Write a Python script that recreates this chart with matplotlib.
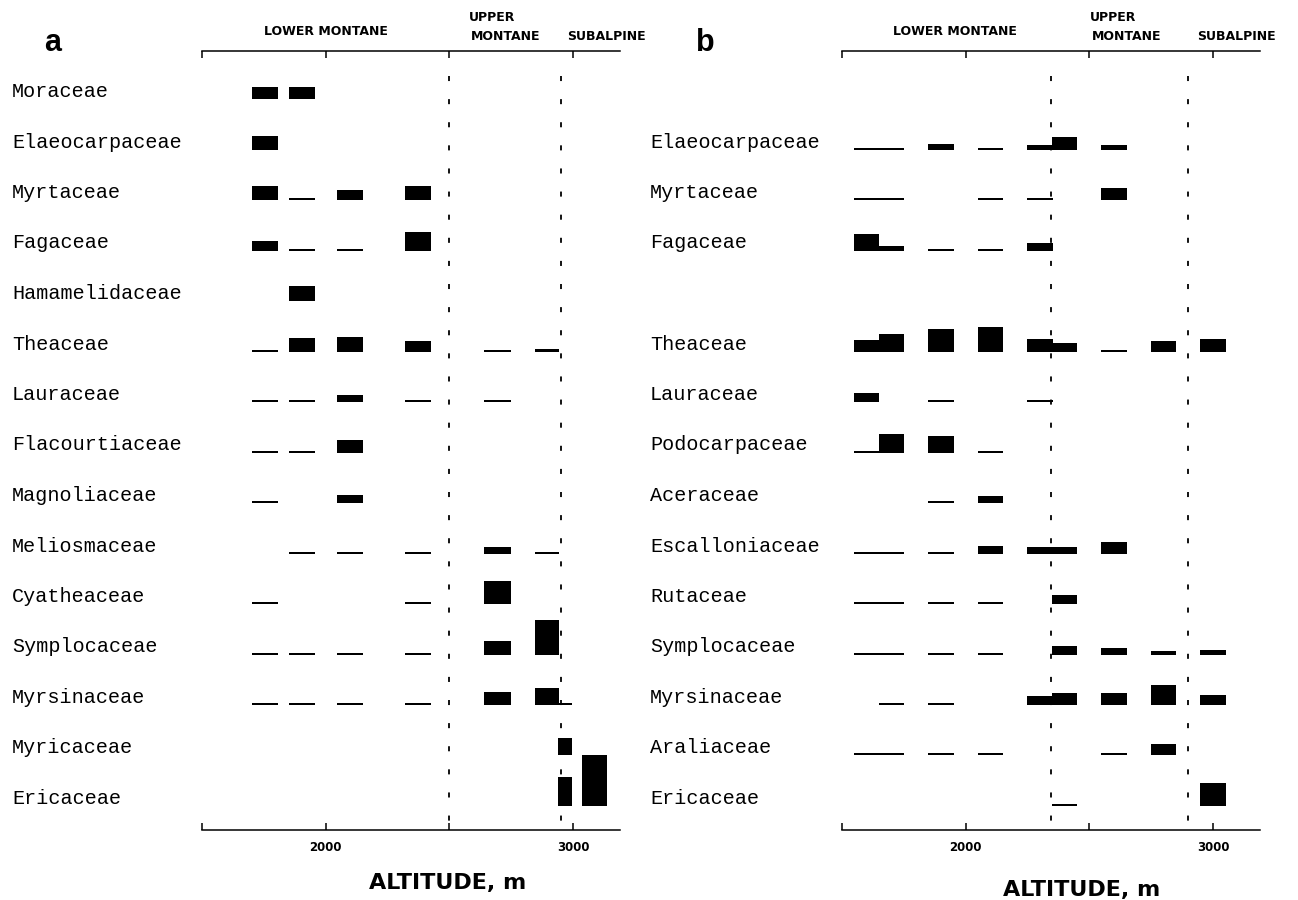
# Altitudinal distribution of tree families, two transects (a, b)
import matplotlib.pyplot as plt
import numpy as np
from matplotlib.transforms import blended_transform_factory

# altitude bands (band centre and band width, m)
alt_a = [1755, 1905, 2100, 2375, 2695, 2895, 2968, 3088]
band_a = [105, 105, 105, 105, 110, 100, 56, 100]
alt_b = [1600, 1700, 1900, 2100, 2300, 2400, 2600, 2800, 3000]
band_b = [103, 103, 103, 103, 103, 103, 103, 103, 103]

families_a = ["Moraceae", "Elaeocarpaceae", "Myrtaceae", "Fagaceae", "Hamamelidaceae",
              "Theaceae", "Lauraceae", "Flacourtiaceae", "Magnoliaceae", "Meliosmaceae",
              "Cyatheaceae", "Symplocaceae", "Myrsinaceae", "Myricaceae", "Ericaceae"]
families_b = ["", "Elaeocarpaceae", "Myrtaceae", "Fagaceae", "",
              "Theaceae", "Lauraceae", "Podocarpaceae", "Aceraceae", "Escalloniaceae",
              "Rutaceae", "Symplocaceae", "Myrsinaceae", "Araliaceae", "Ericaceae"]

# relative importance per band (2 = trace)
imp_a = [
    [12, 12, 0, 0, 0, 0, 0, 0],
    [14, 0, 0, 0, 0, 0, 0, 0],
    [14, 2, 10, 14, 0, 0, 0, 0],
    [10, 2, 2, 19, 0, 0, 0, 0],
    [0, 15, 0, 0, 0, 0, 0, 0],
    [2, 14, 15, 11, 2, 3, 0, 0],
    [2, 2, 7, 2, 2, 0, 0, 0],
    [2, 2, 13, 0, 0, 0, 0, 0],
    [2, 0, 8, 0, 0, 0, 0, 0],
    [0, 2, 2, 2, 7, 2, 0, 0],
    [2, 0, 0, 2, 23, 0, 0, 0],
    [2, 2, 2, 2, 14, 35, 0, 0],
    [2, 2, 2, 2, 13, 17, 2, 0],
    [0, 0, 0, 0, 0, 0, 17, 0],
    [0, 0, 0, 0, 0, 0, 29, 51],
]
imp_b = [
    [0, 0, 0, 0, 0, 0, 0, 0, 0],
    [2, 2, 6, 2, 5, 13, 5, 0, 0],
    [2, 2, 0, 2, 2, 0, 12, 0, 0],
    [17, 5, 2, 2, 8, 0, 0, 0, 0],
    [0, 0, 0, 0, 0, 0, 0, 0, 0],
    [12, 18, 23, 25, 13, 9, 2, 11, 13],
    [9, 0, 2, 0, 2, 0, 0, 0, 0],
    [2, 19, 17, 2, 0, 0, 0, 0, 0],
    [0, 0, 2, 7, 0, 0, 0, 0, 0],
    [2, 2, 2, 8, 7, 7, 12, 0, 0],
    [2, 2, 2, 2, 0, 9, 0, 0, 0],
    [2, 2, 2, 2, 0, 9, 7, 4, 5],
    [0, 2, 2, 0, 9, 12, 12, 20, 10],
    [2, 2, 2, 2, 0, 0, 2, 11, 0],
    [0, 0, 0, 0, 0, 2, 0, 0, 23],
]

bounds_a = [2500, 2950]
bounds_b = [2345, 2900]

W, H = 1298, 900
ROW = 50.5  # pixels per row
fig = plt.figure(figsize=(W / 100, H / 100), dpi=100)

bold = dict(family='DejaVu Sans', weight='bold')


def panel(left_px, alts, bands, imp, fams, bounds, zones, letter, letter_x, lab_x, alt_lab):
    right_px = left_px + 1690 * 0.2473
    ax = fig.add_axes([left_px / W, 1 - 830 / H, (right_px - left_px) / W, (830 - 51) / H])
    ax.set_xlim(1500, 3190)
    ax.set_ylim((830 - 99) / ROW, (51 - 99) / ROW)

    imp = np.array(imp, dtype=float)
    for i in range(len(fams)):
        for j, a in enumerate(alts):
            if imp[i, j] > 0:
                h = imp[i, j] / ROW
                ax.bar(a, -h, bottom=i, width=bands[j], color='black', lw=0)

    for b in bounds:
        ax.vlines(b, -0.45, 14.45, color='black', lw=1.3, linestyles=(0, (2.8, 10)))

    for s in ['left', 'right']:
        ax.spines[s].set_visible(False)
    for s in ['top', 'bottom']:
        ax.spines[s].set_linewidth(1.1)
    ax.set_yticks([])
    ax.set_xticks([1500, 2000, 2500, 3000])
    ax.set_xticklabels(['', '2000', '', '3000'], fontsize=8.5, **bold)
    ax.tick_params(axis='x', direction='in', length=5, width=1.1, pad=8,
                   top=True, labeltop=False)

    tr = blended_transform_factory(fig.transFigure, ax.transData)
    for i, f in enumerate(fams):
        ax.text(lab_x / W, i - 2 / ROW, f, transform=tr, family='Liberation Mono',
                fontsize=14.5, va='baseline', ha='left')

    for txt, x, y in zones:
        ax.text(x, y, txt, fontsize=9, ha='center', va='center', clip_on=False, **bold)

    fig.text(letter_x / W, 1 - 51 / H, letter, fontsize=22, weight='bold',
             family='Liberation Sans', ha='left', va='baseline')
    ax.text(alt_lab[0], alt_lab[1], 'ALTITUDE, m', fontsize=16, ha='center', va='center',
            clip_on=False, **bold)


panel(202, alt_a, band_a, imp_a, families_a, bounds_a,
      [('LOWER MONTANE', 2000, -1.33), ('UPPER', 2673, -1.62),
       ('MONTANE', 2729, -1.23), ('SUBALPINE', 3134, -1.23)],
      'a', 44, 12, (2495, (883 - 99) / ROW))
panel(842, alt_b, band_b, imp_b, families_b, bounds_b,
      [('LOWER MONTANE', 1956, -1.33), ('UPPER', 2595, -1.62),
       ('MONTANE', 2652, -1.23), ('SUBALPINE', 3093, -1.23)],
      'b', 696, 650, (2470, (890 - 99) / ROW))

plt.savefig('out.png', dpi=100)
